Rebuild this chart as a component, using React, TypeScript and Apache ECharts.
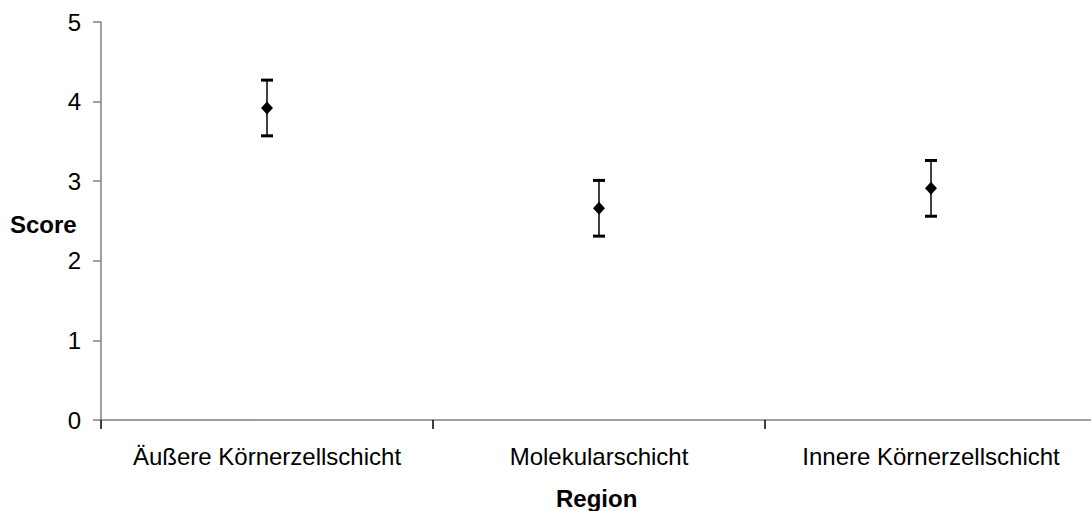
import React, { useEffect, useRef } from "react";
import * as echarts from "echarts";

// Mean score per region with its error margin
const regions = ["Äußere Körnerzellschicht", "Molekularschicht", "Innere Körnerzellschicht"];
const meanScore = [3.92, 2.66, 2.91];
const errorMargin = [0.35, 0.35, 0.35];
const yTicks = [0, 1, 2, 3, 4, 5];

const FONT = "'Liberation Sans', Arial, Helvetica, sans-serif";

export default function App() {
  const ref = useRef<HTMLDivElement>(null);

  useEffect(() => {
    if (!ref.current) return;
    const chart = echarts.init(ref.current, null, { renderer: "svg" });

    const errorData = regions.map((_, i) => [i, meanScore[i] - errorMargin[i], meanScore[i] + errorMargin[i]]);

    chart.setOption({
      animation: false,
      backgroundColor: "#ffffff",
      textStyle: { fontFamily: FONT },
      grid: { left: 101, top: 22, bottom: 91, width: 996, outerBoundsMode: "none", containLabel: false },
      xAxis: {
        type: "category",
        data: regions,
        boundaryGap: true,
        axisLine: { lineStyle: { color: "#808080", width: 1.5 } },
        axisTick: { show: true, alignWithLabel: false, interval: 0, length: 9, lineStyle: { color: "#000000", width: 1.5 } },
        axisLabel: { interval: 0, color: "#000000", fontSize: 24, fontFamily: FONT, margin: 24 },
        splitLine: { show: false },
      },
      yAxis: {
        type: "value",
        min: yTicks[0],
        max: yTicks[yTicks.length - 1],
        interval: 1,
        axisLine: { show: true, lineStyle: { color: "#808080", width: 1.5 } },
        axisTick: { show: true, length: 8, lineStyle: { color: "#808080", width: 1.5 } },
        axisLabel: { color: "#000000", fontSize: 24, fontFamily: FONT, margin: 20 },
        splitLine: { show: false },
      },
      graphic: [
        {
          type: "text",
          left: 10,
          top: 212,
          style: { text: "Score", font: `bold 24px ${FONT}`, fill: "#000000" },
        },
        {
          type: "text",
          left: 556,
          top: 486,
          style: { text: "Region", font: `bold 24px ${FONT}`, fill: "#000000" },
        },
      ],
      series: [
        {
          type: "custom",
          data: errorData,
          renderItem: (_params: any, api: any) => {
            const x = api.value(0);
            const lo = api.coord([x, api.value(1)]);
            const hi = api.coord([x, api.value(2)]);
            const cap = 6;
            const style = { stroke: "#000000", lineWidth: 1.5 };
            const capStyle = { stroke: "#000000", lineWidth: 3 };
            return {
              type: "group",
              children: [
                { type: "line", shape: { x1: hi[0], y1: hi[1], x2: lo[0], y2: lo[1] }, style },
                { type: "line", shape: { x1: hi[0] - cap, y1: hi[1], x2: hi[0] + cap, y2: hi[1] }, style: capStyle },
                { type: "line", shape: { x1: lo[0] - cap, y1: lo[1], x2: lo[0] + cap, y2: lo[1] }, style: capStyle },
              ],
            };
          },
          z: 2,
        },
        {
          type: "scatter",
          data: meanScore,
          symbol: "diamond",
          symbolSize: [12, 13],
          itemStyle: { color: "#000000", opacity: 1 },
          z: 3,
        },
      ],
    });

    return () => chart.dispose();
  }, []);

  return (
    <div
      ref={ref}
      style={{ position: "fixed", left: 0, top: 0, width: 1091, height: 511, background: "#fff" }}
    />
  );
}
